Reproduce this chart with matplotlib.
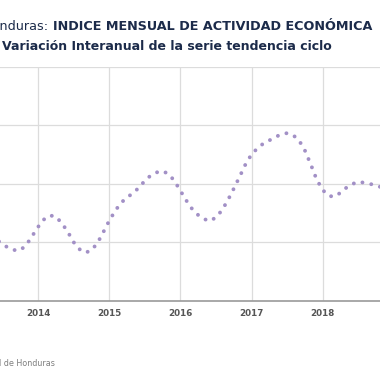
# plot.py - IMAE Honduras, variacion interanual (tendencia ciclo)
import pandas as pd
import matplotlib
matplotlib.use("Agg")
import matplotlib.pyplot as plt
import matplotlib.dates as mdates

OUTPUT_IMG = "out.png"

TITULO_1A = "Honduras:"
TITULO_1B = "INDICE MENSUAL DE ACTIVIDAD ECONÓMICA"
TITULO_2 = "Variación Interanual de la serie tendencia ciclo"
FUENTE = "Fuente: Banco Central de Honduras"

# meses (jun-2013 a dic-2018) y variacion interanual en %
meses = pd.date_range("2013-06-01", "2018-12-01", freq="MS")
variacion = [
    2.09, 1.96, 1.81, 1.74, 1.73, 1.91, 2.21,              # 2013
    2.53, 2.79, 2.92, 2.89, 2.67, 2.38, 2.02, 1.77, 1.65, 1.73, 1.97, 2.34,  # 2014
    2.74, 3.08, 3.34, 3.53, 3.67, 3.86, 4.09, 4.28, 4.39, 4.44, 4.34, 4.11,  # 2015
    3.77, 3.43, 3.15, 2.94, 2.80, 2.73, 2.85, 3.09, 3.44, 3.83, 4.25, 4.67,  # 2016
    5.01, 5.22, 5.37, 5.48, 5.59, 5.69, 5.73, 5.67, 5.49, 5.15, 4.66, 4.15,  # 2017
    3.79, 3.59, 3.56, 3.69, 3.86, 3.99, 4.07, 4.04, 4.00, 3.94, 3.88, 3.83,  # 2018
]
anios = [2014, 2015, 2016, 2017, 2018]
y_ticks = [0, 2, 4, 6, 8]

COLOR_LINEA = "#a290c6"
COLOR_TITULO = "#1c2b4a"


def main():
    W = H = 380
    fig = plt.figure(figsize=(W / 100, H / 100), dpi=100)

    # el grafico original esta recortado: el area de trazado sale por la izquierda
    x0 = -33
    x1 = 38 + 71.1 * 5.5
    ax = fig.add_axes([x0 / W, 1 - 301 / H, (x1 - x0) / W, (301 - 66.7) / H])

    ax.plot(meses, variacion, color=COLOR_LINEA, lw=2.8,
            linestyle=(0, (0.01, 2.3)), dash_capstyle="round")

    ax.set_xlim(pd.Timestamp("2013-01-01"), pd.Timestamp("2019-07-01"))
    ax.set_ylim(y_ticks[0], y_ticks[-1])
    ax.set_yticks(y_ticks)
    ax.set_xticks([pd.Timestamp(f"{a}-01-01") for a in anios] +
                  [pd.Timestamp("2013-01-01"), pd.Timestamp("2019-01-01")])
    ax.xaxis.set_major_formatter(mdates.DateFormatter("%Y"))

    ax.grid(True, color="#dcdcdc", lw=0.9)
    ax.set_axisbelow(True)
    for s in ["top", "right", "left"]:
        ax.spines[s].set_visible(False)
    ax.spines["bottom"].set_color("#9a9a9a")
    ax.spines["bottom"].set_linewidth(1.2)
    ax.tick_params(length=0, pad=6)
    for lbl in ax.get_xticklabels():
        lbl.set_fontsize(6.3)
        lbl.set_fontweight("bold")
        lbl.set_color("#555555")
    # solo se ven las etiquetas 2014-2018
    for lbl, t in zip(ax.xaxis.get_major_ticks(), ax.get_xticks()):
        if mdates.num2date(t).year not in anios:
            lbl.label1.set_visible(False)
    ax.set_yticklabels([])

    t1 = fig.text(372 / W, 1 - 27 / H, TITULO_1B, ha="right", va="center",
                  fontsize=9.2, fontweight="bold", color=COLOR_TITULO)
    fig.canvas.draw()
    bb = t1.get_window_extent()
    fig.text((bb.x0 - 4) / W, 1 - 27 / H, TITULO_1A, ha="right", va="center",
             fontsize=9.2, color=COLOR_TITULO)
    fig.text(2 / W, 1 - 46 / H, TITULO_2, ha="left", va="center",
             fontsize=9.0, fontweight="bold", color=COLOR_TITULO)
    fig.text(55 / W, 1 - 364 / H, FUENTE, ha="right", va="center",
             fontsize=5.8, color="#7f7f7f")

    fig.savefig(OUTPUT_IMG, dpi=100)


if __name__ == "__main__":
    main()
